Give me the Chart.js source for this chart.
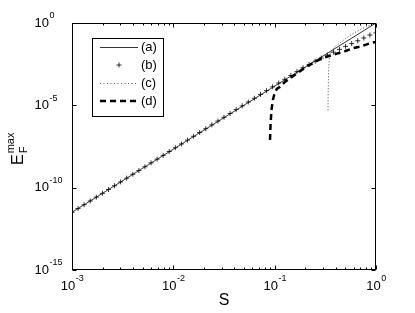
<!DOCTYPE html>
<html>
<head>
<meta charset="utf-8">
<script src="https://cdn.jsdelivr.net/npm/chart.js@4/dist/chart.umd.min.js"></script>
<style>
  html, body { margin: 0; padding: 0; background: #fff; }
  #wrap { width: 415px; height: 313px; }
</style>
</head>
<body>
<div id="wrap"><canvas id="chart" width="415" height="313"></canvas></div>
<script>
// axis ticks (log scale, labelled as 10^exp)
const xTicks = [1e-3, 1e-2, 1e-1, 1];
const xTickExp = ["-3", "-2", "-1", "0"];
const yTicks = [1e-15, 1e-10, 1e-5, 1];
const yTickExp = ["-15", "-10", "-5", "0"];

// (a) solid reference line
const sA = [0.001, 1];
const eA = [3.2e-12, 1.0];

// (b) plus markers
const sB = [
  0.001, 0.001148, 0.001318, 0.001514, 0.001738, 0.001995, 0.002291, 0.00263, 0.00302, 0.003467,
  0.003981, 0.004571, 0.005248, 0.006026, 0.006918, 0.007943, 0.00912, 0.01047, 0.01202, 0.0138,
  0.01585, 0.0182, 0.02089, 0.02399, 0.02754, 0.03162, 0.03631, 0.04169, 0.04786, 0.05495,
  0.0631, 0.07244, 0.08318, 0.0955, 0.1096, 0.1259, 0.1445, 0.166, 0.1905, 0.2188,
  0.2512, 0.2884, 0.3311, 0.3802, 0.4365, 0.5012, 0.5754, 0.6607, 0.7586, 0.871, 1.0
];
const eB = [
  3.2e-12, 5.4e-12, 9.2e-12, 1.56e-11, 2.65e-11, 4.5e-11, 7.7e-11, 1.31e-10, 2.23e-10, 3.8e-10,
  6.5e-10, 1.1e-9, 1.87e-9, 3.2e-9, 5.4e-9, 9.2e-9, 1.57e-8, 2.67e-8, 4.5e-8, 7.7e-8,
  1.32e-7, 2.24e-7, 3.8e-7, 6.5e-7, 1.11e-6, 1.88e-6, 3.2e-6, 5.5e-6, 9.3e-6, 1.58e-5,
  2.69e-5, 4.6e-5, 7.8e-5, 1.33e-4, 2.26e-4, 3.8e-4, 6.5e-4, 1.11e-3, 1.9e-3, 3.0e-3,
  4.8e-3, 7.4e-3, 1.12e-2, 1.7e-2, 2.5e-2, 3.8e-2, 5.6e-2, 8.3e-2, 0.123, 0.186, 0.25
];

// (c) dotted
const sC = [0.336, 0.337, 0.339, 0.342, 0.347, 0.36, 0.4, 0.5, 0.6, 0.7, 0.8, 0.9, 1.0];
const eC = [5.0e-6, 4.0e-5, 3.2e-4, 2.0e-3, 7.9e-3, 1.9e-2, 4.0e-2, 1.12e-1, 2.4e-1, 4.0e-1, 5.9e-1, 7.9e-1, 1.0];

// (d) dashed
const sD = [0.09, 0.091, 0.093, 0.096, 0.1, 0.105, 0.112, 0.125, 0.15, 0.2, 0.25, 0.3, 0.4, 0.5, 0.6, 0.7, 0.8, 0.9, 1.0];
const eD = [7.9e-8, 6.3e-7, 5.2e-6, 2.1e-5, 5.6e-5, 1.0e-4, 1.3e-4, 2.5e-4, 5.6e-4, 2.0e-3, 4.3e-3, 7.6e-3, 1.3e-2, 2.0e-2, 3.0e-2, 3.7e-2, 4.9e-2, 6.2e-2, 7.1e-2];

const legendLabels = ["(a)", "(b)", "(c)", "(d)"];

const FONT = "'Liberation Sans', Arial, Helvetica, sans-serif";

function pts(xs, ys) {
  return xs.map((x, i) => ({ x: x, y: ys[i] }));
}

// draws "10" with a raised exponent
function drawPow(ctx, x, y, exp, align) {
  ctx.font = "13px " + FONT;
  const wBase = ctx.measureText("10").width;
  ctx.font = "9px " + FONT;
  const wExp = ctx.measureText(exp).width;
  let left;
  if (align === "center") left = x - (wBase + wExp) / 2;
  else left = x - wBase; // base right-aligned at x
  ctx.textBaseline = "middle";
  ctx.textAlign = "left";
  ctx.font = "13px " + FONT;
  ctx.fillText("10", left, y);
  ctx.font = "9px " + FONT;
  ctx.fillText(exp, left + wBase + 0.5, y - 7);
}

const frame = {
  id: "frame",
  afterDatasetsDraw(chart) {
    const { ctx, chartArea: a, scales: { x, y } } = chart;
    ctx.save();
    ctx.strokeStyle = "#000";
    ctx.fillStyle = "#000";
    ctx.lineWidth = 1;
    const L = Math.round(a.left) + 0.5, R = Math.round(a.right) - 0.5;
    const T = Math.round(a.top) + 0.5, B = Math.round(a.bottom) - 0.5;
    ctx.strokeRect(L, T, R - L, B - T);

    ctx.beginPath();
    // x major + minor ticks
    xTicks.forEach((v, i) => {
      const px = Math.round(x.getPixelForValue(v)) + 0.5;
      ctx.moveTo(px, B); ctx.lineTo(px, B - 4);
      ctx.moveTo(px, T); ctx.lineTo(px, T + 4);
      if (i < xTicks.length - 1) {
        for (let m = 2; m <= 9; m++) {
          const mx = Math.round(x.getPixelForValue(v * m)) + 0.5;
          ctx.moveTo(mx, B); ctx.lineTo(mx, B - 2);
          ctx.moveTo(mx, T); ctx.lineTo(mx, T + 2);
        }
      }
    });
    yTicks.forEach(v => {
      const py = Math.round(y.getPixelForValue(v)) + 0.5;
      ctx.moveTo(L, py); ctx.lineTo(L + 4, py);
      ctx.moveTo(R, py); ctx.lineTo(R - 4, py);
    });
    ctx.stroke();

    xTicks.forEach((v, i) => drawPow(ctx, x.getPixelForValue(v), 286, xTickExp[i], "center"));
    yTicks.forEach((v, i) => drawPow(ctx, 49, y.getPixelForValue(v), yTickExp[i], "right"));

    // axis titles
    ctx.font = "16px " + FONT;
    ctx.textAlign = "center";
    ctx.textBaseline = "middle";
    ctx.fillText("S", 224, 301);

    ctx.translate(23, 165);
    ctx.rotate(-Math.PI / 2);
    ctx.textAlign = "left";
    ctx.textBaseline = "alphabetic";
    ctx.font = "16px " + FONT;
    ctx.fillText("E", 0, 0);
    const wE = ctx.measureText("E").width;
    ctx.font = "11px " + FONT;
    ctx.fillText("F", wE + 1, 4);
    ctx.fillText("max", wE + 1, -9);
    ctx.restore();

    // legend box
    ctx.save();
    ctx.fillStyle = "#fff";
    ctx.fillRect(92.5, 38.5, 71, 78);
    ctx.strokeStyle = "#000";
    ctx.lineWidth = 1;
    ctx.strokeRect(92.5, 38.5, 71, 78);
    const rows = [47, 65, 83, 101];
    const x0 = 100, x1 = 138;
    ctx.strokeStyle = "#000";
    // (a)
    ctx.lineWidth = 0.8;
    ctx.beginPath(); ctx.moveTo(x0, rows[0] + 0.5); ctx.lineTo(x1, rows[0] + 0.5); ctx.stroke();
    // (b)
    ctx.lineWidth = 0.8;
    const cx = 119, cy = rows[1];
    ctx.beginPath();
    ctx.moveTo(cx - 2.5, cy); ctx.lineTo(cx + 2.5, cy);
    ctx.moveTo(cx, cy - 2.5); ctx.lineTo(cx, cy + 2.5);
    ctx.stroke();
    // (c)
    ctx.strokeStyle = "#555";
    ctx.lineWidth = 1;
    ctx.setLineDash([1, 2.5]);
    ctx.beginPath(); ctx.moveTo(x0, rows[2] + 0.5); ctx.lineTo(x1, rows[2] + 0.5); ctx.stroke();
    // (d)
    ctx.strokeStyle = "#000";
    ctx.lineWidth = 2.5;
    ctx.setLineDash([6, 4]);
    ctx.beginPath(); ctx.moveTo(x0, rows[3]); ctx.lineTo(x1, rows[3]); ctx.stroke();
    ctx.setLineDash([]);

    ctx.fillStyle = "#000";
    ctx.font = "13px " + FONT;
    ctx.textAlign = "left";
    ctx.textBaseline = "middle";
    legendLabels.forEach((t, i) => ctx.fillText(t, 141, rows[i]));
    ctx.restore();
  }
};

new Chart(document.getElementById("chart"), {
  type: "scatter",
  data: {
    datasets: [
      { label: "(a)", data: pts(sA, eA), showLine: true, borderColor: "#000", borderWidth: 0.8, pointRadius: 0 },
      { label: "(b)", data: pts(sB, eB), showLine: false, pointStyle: "cross", pointRadius: 2.5, borderColor: "#000", borderWidth: 0.8 },
      { label: "(c)", data: pts(sC, eC), showLine: true, borderColor: "#444", borderWidth: 1, borderDash: [1, 2], pointRadius: 0 },
      { label: "(d)", data: pts(sD, eD), showLine: true, borderColor: "#000", borderWidth: 2.5, borderDash: [6, 4], pointRadius: 0 }
    ]
  },
  options: {
    responsive: false,
    animation: false,
    devicePixelRatio: 1,
    layout: { padding: { left: 72, right: 39, top: 23, bottom: 43 } },
    plugins: { legend: { display: false }, tooltip: { enabled: false } },
    scales: {
      x: { type: "logarithmic", min: 1e-3, max: 1, display: false },
      y: { type: "logarithmic", min: 1e-15, max: 1, display: false }
    }
  },
  plugins: [frame]
});
</script>
</body>
</html>
